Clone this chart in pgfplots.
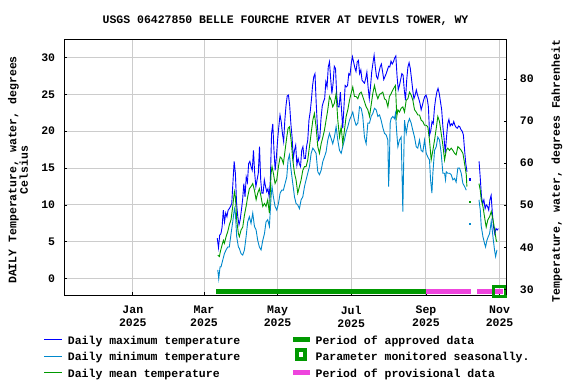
\documentclass[border=0pt]{standalone}
\usepackage{fontspec}
\setmainfont{Liberation Mono}
\usepackage{pgfplots}
\pgfplotsset{compat=1.18}
\definecolor{cmax}{RGB}{0,0,255}
\definecolor{cmin}{RGB}{0,136,204}
\definecolor{cmean}{RGB}{0,153,0}
\definecolor{capp}{RGB}{0,153,0}
\definecolor{cprov}{RGB}{238,68,221}
\definecolor{cgrid}{RGB}{204,204,204}
\newcommand{\lab}{\fontsize{11.5}{11.6}\selectfont\bfseries}
\newcommand{\tlab}{\fontsize{11.5}{12.7}\selectfont\bfseries}
\begin{document}
\begin{tikzpicture}[x=1pt,y=1pt]
\useasboundingbox (0,0) rectangle (576,384);
\begin{axis}[at={(64.3pt,88.7pt)}, anchor=south west, scale only axis,
  width=442.4pt, height=255.8pt,
  xmin=-56.8, xmax=309.9, ymin=-2.25, ymax=32.43,
  xtick={0,59,120,181,243,304},
  xticklabels={Jan\\2025,Mar\\2025,May\\2025,Jul\\2025,Sep\\2025,Nov\\2025},
  xticklabel style={align=center, font=\tlab, inner sep=0pt, anchor=north, yshift=-10.5pt},
  ytick={0,5,...,30},
  yticklabel style={font=\lab, inner sep=0pt, anchor=east, xshift=-9pt},
  xtick pos=bottom, ytick pos=left, tick align=inside, major tick length=3pt,
  grid=major, grid style={cgrid, line width=1pt},
  axis line style={black, line width=1pt}, tick style={black, line width=0.8pt},
  /pgf/number format/assume math mode=true,
  clip=false]
% period bars
\addplot[capp, line width=4.7pt] coordinates {(69,-1.76) (242.7,-1.76)};
\addplot[cprov, line width=4.7pt] coordinates {(242.7,-1.76) (280.1,-1.76)};
\addplot[cprov, line width=4.7pt] coordinates {(285.3,-1.76) (307,-1.76)};
\addplot[capp, line width=3pt, line join=miter] coordinates {(304,-1.06) (309.2,-1.06) (309.2,-2.45) (299,-2.45) (299,-1.06) (304.1,-1.06)};
% daily maximum
\addplot[cmax, line width=0.9pt] coordinates {
(70,5.5)(71,4.2)(72,5.9)(73,6.1)(74,7.0)(75,9.3)(76,7.7)(77,8.9)(78,8.4)(79,9.3)
(80,9.5)(81,9.8)(82,10.2)(83,13.1)(84,15.9)(85,14.3)(86,10.2)(87,8.4)(88,7.3)(89,8.0)
(90,9.3)(91,10.7)(92,12.9)(93,11.1)(94,13.8)(95,13.1)(96,15.6)(97,15.9)(98,15.2)(99,14.7)
(100,17.4)(101,14.3)(102,12.5)(103,13.4)(104,14.3)(105,17.9)(106,13.4)(107,11.6)(108,11.6)(109,13.4)
(110,12.5)(111,11.8)(112,12.2)(113,11.1)(114,13.4)(115,19.7)(116,21.0)(117,17.4)(118,14.7)(119,16.5)
(120,18.8)(121,20.6)(122,22.2)(123,21.3)(124,19.7)(125,18.6)(126,21.5)(127,23.5)(128,24.8)(129,24.9)
(130,23.5)(131,21.0)(132,19.2)(133,16.3)(134,17.4)(135,18.1)(136,15.4)(137,16.3)(138,15.6)(139,15.2)
(140,17.4)(141,17.9)(142,16.3)(143,16.3)(144,17.9)(145,18.8)(146,21.5)(147,22.6)(148,24.2)(149,26.2)
(150,27.4)(151,27.8)(152,23.8)(153,20.6)(154,18.8)(155,19.2)(156,21.7)(157,23.4)(158,24.0)(159,24.4)
(160,26.7)(161,26.0)(162,28.7)(163,29.4)(164,27.1)(165,25.1)(166,26.5)(167,28.8)(168,28.5)(169,24.9)
(170,23.3)(171,23.3)(172,25.3)(173,22.9)(174,20.4)(175,23.3)(176,26.2)(177,26.0)(178,26.2)(179,27.8)
(180,27.6)(181,29.1)(182,30.1)(183,29.4)(184,28.6)(185,28.1)(186,29.4)(187,29.6)(188,27.8)(189,28.3)
(190,26.9)(191,26.7)(192,26.5)(193,27.1)(194,28.0)(195,26.0)(196,24.4)(197,26.0)(198,28.0)(199,29.2)
(200,30.3)(201,28.7)(202,27.4)(203,27.1)(204,28.0)(205,28.7)(206,29.1)(207,28.1)(208,27.0)(209,27.4)
(210,27.8)(211,28.3)(212,28.8)(213,28.7)(214,29.5)(215,29.1)(216,29.4)(217,29.9)(218,30.2)(219,27.5)
(220,25.6)(221,26.2)(222,27.0)(223,27.8)(224,27.6)(225,25.6)(226,24.2)(227,26.9)(228,28.7)(229,29.3)
(230,28.5)(231,27.1)(232,25.6)(233,24.4)(234,24.9)(235,25.6)(236,24.9)(237,24.4)(238,23.8)(239,22.9)
(240,23.5)(241,24.2)(242,24.7)(243,24.9)(244,24.4)(245,23.3)(246,19.5)(247,20.1)(248,21.3)(249,21.0)
(250,23.1)(251,24.4)(252,25.3)(253,25.8)(254,25.1)(255,24.0)(256,22.9)(257,20.6)(258,19.0)(259,17.0)
(260,19.2)(261,21.0)(262,21.6)(263,20.7)(264,21.0)(265,20.8)(266,21.3)(267,20.8)(268,20.5)(269,20.4)
(270,20.7)(271,20.6)(272,20.2)(273,20.0)(274,19.5)(275,17.4)(276,15.6)(277,14.5)};
\addplot[cmax, line width=0.9pt] coordinates {
(287,15.9)(288,13.6)(289,11.1)(290,10.2)(291,10.7)(292,9.5)(293,10.0)(294,9.8)(295,9.3)(296,10.7)
(297,11.3)(298,8.9)(299,7.0)(300,6.1)(301,6.8)(302,6.6)(303,6.8)};
\addplot[cmax, only marks, mark=square*, mark size=0.6pt] coordinates {(279,13.5)};
% daily minimum
\addplot[cmin, line width=0.9pt] coordinates {
(70.4,1.2)(71.2,0.0)(72.3,1.6)(73.1,1.6)(74.5,2.5)(75.9,3.4)(77.3,3.9)(78.7,4.3)(80.0,4.3)(81.4,6.1)
(82.8,7.7)(84.2,9.5)(85.0,8.9)(86.1,5.7)(87.5,4.3)(88.3,4.1)(89.7,3.4)(91.1,3.2)(92.5,3.9)(93.9,5.7)
(95.2,7.7)(96.6,8.4)(98.0,7.5)(99.4,8.9)(100.8,7.1)(102.2,6.6)(103.5,5.2)(104.9,4.3)(106.3,3.9)(107.7,5.2)
(109.1,6.1)(110.4,7.7)(111.8,8.0)(113.2,7.1)(114.6,11.1)(115.4,12.5)(116.5,11.1)(117.9,9.8)(119.3,9.3)(120.7,10.2)
(122.1,11.6)(123.4,12.0)(124.8,12.0)(126.2,12.9)(127.6,13.8)(128.7,16.1)(129.8,16.8)(131.2,14.7)(132.6,12.9)(134.0,11.1)
(135.3,10.2)(136.7,10.0)(138.1,9.5)(139.5,10.7)(140.9,11.1)(142.3,12.5)(143.6,13.4)(145.0,14.3)(146.4,15.2)(147.8,17.0)
(149.2,17.7)(150.5,17.4)(151.9,17.0)(153.3,14.5)(154.7,14.1)(156.1,14.7)(157.5,15.9)(158.8,16.5)(160.2,17.2)(161.6,18.8)
(163.0,19.7)(164.4,19.0)(165.7,18.3)(167.1,19.2)(168.5,20.6)(169.9,18.8)(171.3,17.4)(172.7,17.0)(174.0,17.9)(175.4,18.8)
(176.8,19.9)(178.2,20.6)(179.6,21.5)(180.9,22.0)(182.3,22.6)(183.7,21.5)(185.1,20.8)(186.5,21.1)(187.9,23.3)(189.3,23.1)
(190.6,22.0)(192.0,19.2)(193.4,18.3)(194.8,21.1)(196.2,21.1)(197.5,22.0)(198.9,22.4)(200.3,23.1)(201.7,22.9)(203.1,22.0)
(204.5,22.2)(205.8,21.5)(207.2,20.5)(208.6,19.7)(210.0,19.5)(211.4,18.8)(212.0,12.5)(212.6,15.2)(213.3,21.1)(214.1,21.7)
(215.5,22.0)(216.9,21.7)(217.7,22.4)(218.8,19.7)(219.7,17.9)(221.0,18.8)(222.4,19.2)(223.2,13.8)(223.8,9.1)(224.6,16.5)
(225.2,21.5)(226.6,19.7)(228.0,21.1)(229.3,21.7)(230.7,21.1)(232.1,20.1)(233.5,19.2)(234.9,17.9)(236.2,17.7)(237.6,18.8)
(239.0,17.4)(240.4,17.2)(241.8,18.8)(243.2,17.0)(244.5,16.5)(245.9,16.1)(246.8,13.4)(247.9,11.6)(248.7,14.3)(250.1,17.4)
(251.5,17.9)(252.8,19.2)(254.2,18.8)(255.6,17.0)(257.0,14.3)(258.4,14.3)(259.2,13.4)(259.8,14.5)(261.1,14.3)(262.5,14.3)
(263.9,14.1)(265.3,13.4)(266.7,13.6)(268.0,13.1)(269.4,15.0)(270.8,15.0)(272.2,14.3)(273.6,12.9)(275.0,12.5)(276.4,12.0)};
\addplot[cmin, line width=0.9pt] coordinates {
(286.9,10.7)(288.0,9.3)(288.8,7.1)(290.2,5.7)(291.5,4.8)(292.4,4.3)(293.5,5.2)(294.6,5.7)(295.7,6.1)(297.1,7.8)
(298.5,5.7)(299.8,3.9)(300.7,3.0)(301.8,3.9)};
\addplot[cmin, only marks, mark=square*, mark size=0.6pt] coordinates {(279,7.5)};
% daily mean
\addplot[cmean, line width=0.9pt] coordinates {
(70.4,3.2)(71.7,3.0)(72.6,3.7)(74.0,4.6)(75.1,5.2)(75.9,4.8)(77.3,5.7)(78.7,6.4)(80.0,7.3)(81.4,8.0)
(82.8,9.8)(84.2,11.8)(85.0,11.1)(86.1,8.0)(87.5,6.1)(88.3,5.7)(89.7,6.6)(91.1,7.0)(92.5,8.6)(93.9,9.8)
(95.2,11.1)(96.6,12.2)(98.0,12.5)(99.4,12.9)(100.8,12.0)(102.2,10.7)(103.5,11.6)(104.9,12.2)(106.3,11.1)(107.7,9.8)
(109.1,10.2)(110.4,9.8)(111.8,10.7)(113.2,8.9)(114.6,14.3)(115.4,15.2)(116.5,14.3)(117.9,12.9)(119.3,13.4)(120.7,15.2)
(122.1,16.5)(123.4,16.3)(124.8,15.6)(126.2,17.4)(127.6,19.2)(128.7,20.4)(129.8,20.6)(131.2,18.8)(132.6,16.1)(134.0,14.3)
(135.3,13.4)(136.7,11.6)(138.1,12.5)(139.5,13.4)(140.9,14.7)(142.3,15.2)(143.6,15.2)(145.0,16.1)(146.4,17.9)(147.8,19.7)
(149.2,21.5)(150.5,22.4)(151.9,20.6)(153.3,17.9)(154.7,17.0)(156.1,18.3)(157.5,19.2)(158.8,20.1)(160.2,21.5)(161.6,22.9)
(163.0,24.7)(164.4,24.2)(165.7,23.3)(167.1,23.8)(168.5,25.1)(169.9,21.5)(171.3,19.2)(172.7,20.6)(174.0,18.3)(175.4,20.1)
(176.8,22.0)(178.2,22.9)(179.6,24.2)(180.9,25.1)(182.3,26.0)(183.7,24.7)(185.1,24.7)(186.5,24.4)(187.9,25.1)(189.3,25.3)
(190.6,24.7)(192.0,24.0)(193.4,23.3)(194.8,22.9)(196.2,22.0)(197.5,23.5)(198.9,25.1)(200.3,26.2)(201.7,25.1)(203.1,24.4)
(204.5,25.0)(205.8,25.1)(207.2,25.3)(208.6,24.4)(210.0,24.2)(211.4,23.3)(212.7,24.7)(214.1,25.1)(215.5,25.6)(216.9,26.0)
(217.7,26.2)(218.8,22.0)(219.7,22.9)(221.0,22.6)(222.4,23.1)(223.8,23.3)(225.2,22.6)(226.6,24.2)(228.0,24.4)(229.3,25.3)
(230.7,24.9)(232.1,24.2)(233.5,22.9)(234.9,22.6)(236.2,22.2)(237.6,22.2)(239.0,21.5)(240.4,21.3)(241.8,20.8)(243.2,20.8)
(244.5,20.6)(245.9,18.8)(247.3,16.1)(248.7,17.4)(250.1,18.8)(251.5,20.4)(252.8,22.0)(254.2,21.3)(255.6,19.7)(257.0,18.1)
(258.4,16.1)(259.8,17.4)(261.1,17.7)(262.5,17.4)(263.9,17.7)(265.3,17.4)(266.7,17.0)(268.0,16.8)(269.4,17.9)(270.8,17.7)
(272.2,17.4)(273.6,17.0)(275.0,15.6)(276.4,14.1)(276.9,12.5)};
\addplot[cmean, line width=0.9pt] coordinates {
(286.9,12.9)(288.0,12.0)(288.8,10.7)(290.2,9.8)(291.5,8.4)(292.9,7.0)(294.3,8.0)(295.7,8.4)(297.1,9.1)(298.5,8.0)
(299.8,6.8)(301.2,5.2)(301.8,5.0)};
\addplot[cmean, only marks, mark=square*, mark size=0.6pt] coordinates {(279,10.4)};
\end{axis}
\begin{axis}[at={(64.3pt,88.7pt)}, anchor=south west, scale only axis,
  width=442.4pt, height=255.8pt,
  xmin=-56.8, xmax=309.9, ymin=28.57, ymax=89.39,
  axis x line=none, axis y line*=right,
  ytick={30,40,...,80},
  yticklabel style={font=\lab, inner sep=0pt, anchor=west, xshift=13pt},
  tick align=inside, major tick length=3pt,
  axis line style={black, line width=1pt}, tick style={black, line width=0.8pt},
  /pgf/number format/assume math mode=true]
\addplot[draw=none] coordinates {(0,50)};
\end{axis}
% titles and labels
\node[font=\lab] at (285.5,363) {USGS 06427850 BELLE FOURCHE RIVER AT DEVILS TOWER, WY};
\node[font=\lab, rotate=90, align=center] at (18,214) {DAILY Temperature, water, degrees\\Celsius};
\node[font=\lab, rotate=90] at (557,213) {Temperature, water, degrees Fahrenheit};
% legend
\draw[draw=cmax, line width=1.3pt] (44,44.3) -- (61.7,44.3);
\node[font=\lab, anchor=base west, inner sep=0pt] at (67.7,39.7) {Daily maximum temperature};
\draw[draw=cmin, line width=1.3pt] (44,27.7) -- (61.7,27.7);
\node[font=\lab, anchor=base west, inner sep=0pt] at (67.7,23.3) {Daily minimum temperature};
\draw[draw=cmean, line width=1.3pt] (44,11.3) -- (61.7,11.3);
\node[font=\lab, anchor=base west, inner sep=0pt] at (67.7,6.7) {Daily mean temperature};
\draw[capp, line width=4.7pt] (293,44.3) -- (310,44.3);
\node[font=\lab, anchor=base west, inner sep=0pt] at (315.4,39.7) {Period of approved data};
\draw[capp, line width=4pt] (297,34.2) rectangle (305,25.2);
\node[font=\lab, anchor=base west, inner sep=0pt] at (315.4,23.3) {Parameter monitored seasonally.};
\draw[cprov, line width=4.7pt] (293,11.3) -- (310,11.3);
\node[font=\lab, anchor=base west, inner sep=0pt] at (315.4,6.7) {Period of provisional data};
\end{tikzpicture}
\end{document}
